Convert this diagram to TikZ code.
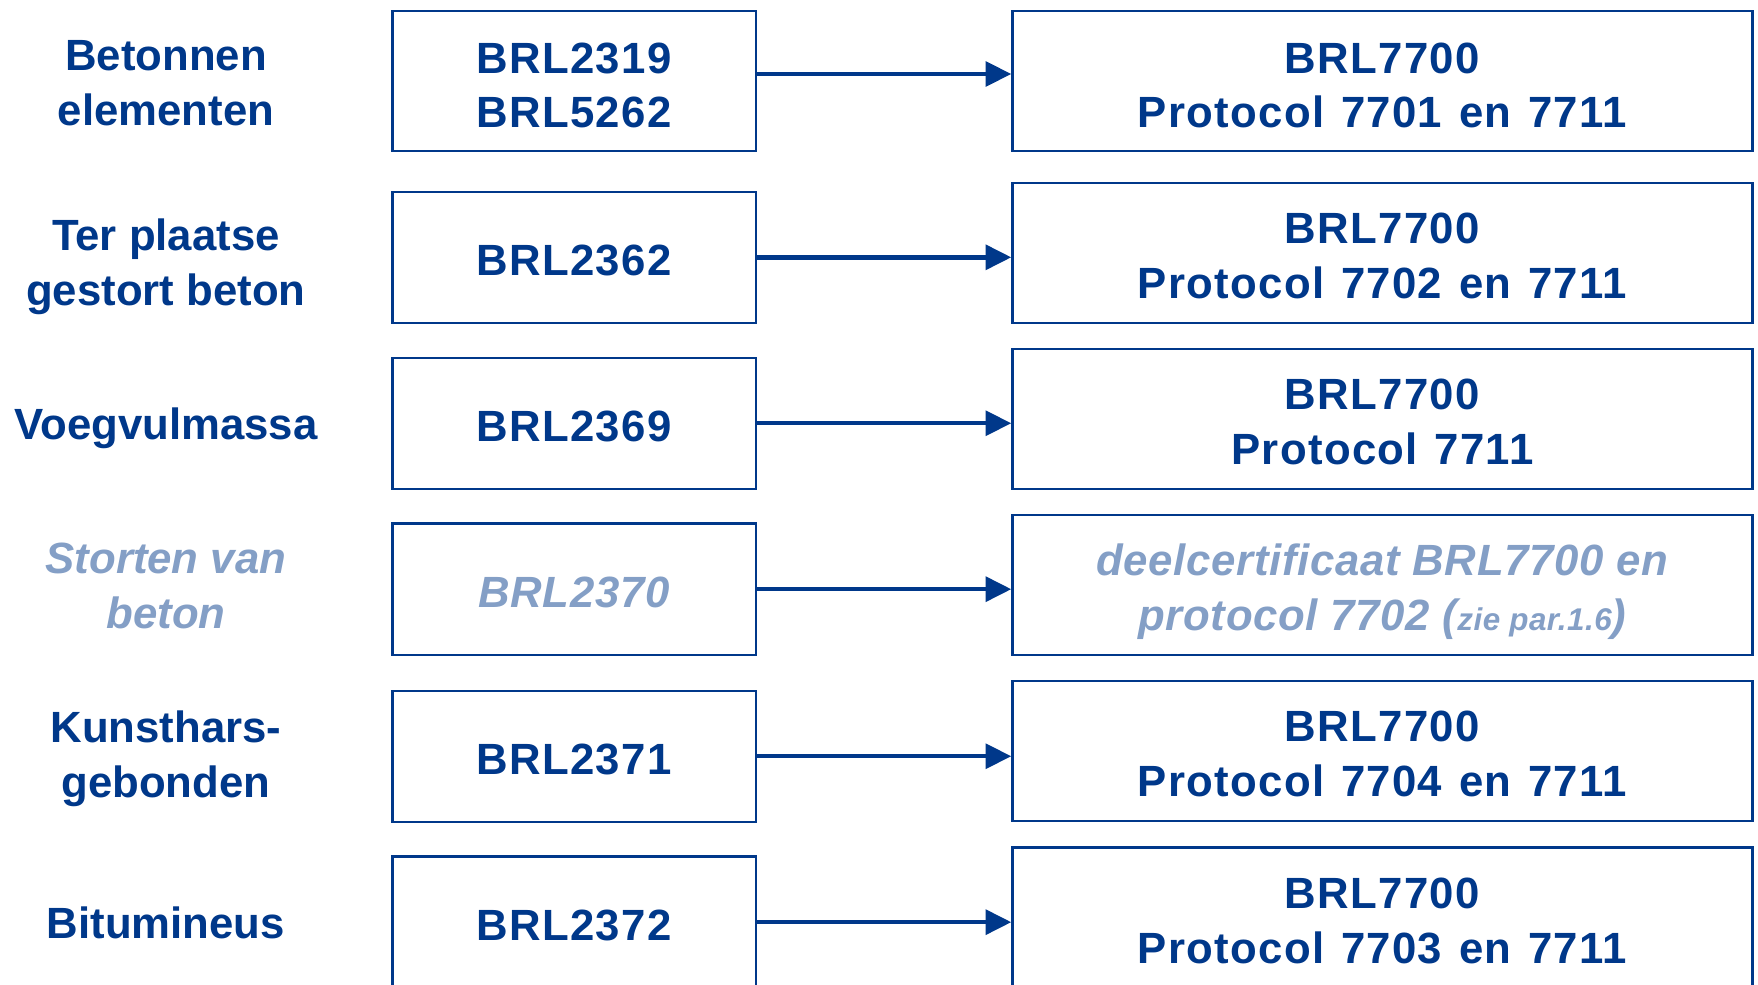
\documentclass[tikz,border=0pt]{standalone}
\usepackage{fontspec}
\setmainfont{Liberation Sans}
\newfontfamily\boxfont{Liberation Sans}[LetterSpace=3,WordSpace=1.25]
\newfontfamily\ghostfont{Liberation Sans}[LetterSpace=1.5]
\usetikzlibrary{arrows.meta}
\definecolor{kblue}{RGB}{0,56,138}
\definecolor{kgray}{RGB}{132,159,198}
\begin{document}
\begin{tikzpicture}[x=0.5pt,y=-0.5pt,
  lbl/.style={font=\bfseries\fontsize{19.5}{24.5}\selectfont, text=kblue, align=center, inner sep=0pt, text depth=0pt},
  box/.style={draw=kblue, line width=1pt, inner sep=0pt},
  boxa/.style={box, minimum width=162pt},
  boxb/.style={box, minimum width=330pt, minimum height=62.5pt},
  btxt/.style={font=\boxfont\bfseries\fontsize{19.5}{24.5}\selectfont, text=kblue, align=center, inner sep=0pt, text depth=0pt, yshift=-1.25pt},
  ghost/.style={text=kgray, font=\ghostfont\bfseries\itshape\fontsize{19.5}{24.5}\selectfont},
  arr/.style={draw=kblue, line width=2pt, -{Triangle[length=11.5pt,width=11pt]}}]
\useasboundingbox (0,0) rectangle (1568,878);
\clip (0,0) rectangle (1568,878);
\fill[white] (0,0) rectangle (1568,878);
% row 1
\node[lbl] (l1) at (148,74) {Betonnen\\elementen};
\node[boxa, minimum height=62.5pt] (b1) at (512,72.5) {};
\node[btxt, yshift=-0.5pt] (tb1) at (b1) {BRL2319\\BRL5262};
\node[boxb] (c1) at (1233,72.5) {};
\node[btxt, yshift=-0.5pt] (tc1) at (c1) {BRL7700\\Protocol 7701 en 7711};
\draw[arr] ([yshift=3.25pt]b1.east) -- ([yshift=3.25pt]b1.east -| c1.west);
% row 2
\node[lbl] (l2) at (148,234) {Ter plaatse\\gestort beton};
\node[boxa, minimum height=58.5pt] (b2) at (512,229.5) {};
\node[btxt] (tb2) at (b2) {BRL2362};
\node[boxb] (c2) at (1233,225.5) {};
\node[btxt] (tc2) at (c2) {BRL7700\\Protocol 7702 en 7711};
\draw[arr] (b2.east) -- (b2.east -| c2.west);
% row 3
\node[lbl] (l3) at (148,378) {Voegvulmassa};
\node[boxa, minimum height=58.5pt] (b3) at (512,377.5) {};
\node[btxt] (tb3) at (b3) {BRL2369};
\node[boxb] (c3) at (1233,373.5) {};
\node[btxt] (tc3) at (c3) {BRL7700\\Protocol 7711};
\draw[arr] (b3.east) -- (b3.east -| c3.west);
% row 4
\node[lbl, text=kgray, font=\bfseries\itshape\fontsize{19.5}{24.5}\selectfont] (l4) at (148,522.5) {Storten van\\beton};
\node[boxa, minimum height=58.5pt] (b4) at (512,525.5) {};
\node[btxt, ghost] (tb4) at (b4) {BRL2370};
\node[boxb] (c4) at (1233,521.5) {};
\node[btxt, ghost] (tc4) at (c4) {deelcertificaat BRL7700 en\\protocol 7702 ({\fontsize{14}{16}\selectfont zie par.1.6})};
\draw[arr] (b4.east) -- (b4.east -| c4.west);
% row 5
\node[lbl] (l5) at (148,672.5) {Kunsthars-\\gebonden};
\node[boxa, minimum height=58.5pt] (b5) at (512,674.5) {};
\node[btxt] (tb5) at (b5) {BRL2371};
\node[boxb] (c5) at (1233,670) {};
\node[btxt] (tc5) at (c5) {BRL7700\\Protocol 7704 en 7711};
\draw[arr] (b5.east) -- (b5.east -| c5.west);
% row 6
\node[lbl] (l6) at (148,823) {Bitumineus};
\node[boxa, minimum height=58.5pt] (b6) at (512,822.5) {};
\node[btxt] (tb6) at (b6) {BRL2372};
\node[boxb] (c6) at (1233,818.5) {};
\node[btxt] (tc6) at (c6) {BRL7700\\Protocol 7703 en 7711};
\draw[arr] (b6.east) -- (b6.east -| c6.west);
\end{tikzpicture}
\end{document}
